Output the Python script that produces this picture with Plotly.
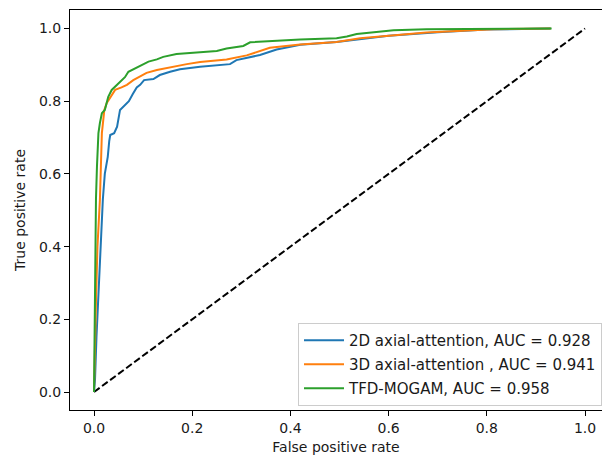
import plotly.graph_objects as go

# ---- data ----
names = ["2D axial-attention, AUC = 0.928",
         "3D axial-attention , AUC = 0.941",
         "TFD-MOGAM, AUC = 0.958"]
colors = ["#1f77b4", "#ff7f0e", "#2ca02c"]

fpr_2d = [0, 0.002, 0.005, 0.009, 0.014, 0.018, 0.022, 0.028, 0.031, 0.033, 0.041, 0.047,
          0.053, 0.063, 0.071, 0.079, 0.087, 0.094, 0.102, 0.121, 0.134, 0.155, 0.175,
          0.216, 0.277, 0.29, 0.338, 0.372, 0.42, 0.494, 0.562, 0.6, 0.65, 0.7, 0.8, 0.93]
tpr_2d = [0, 0.033, 0.15, 0.28, 0.42, 0.53, 0.60, 0.647, 0.69, 0.707, 0.712, 0.73,
          0.776, 0.79, 0.80, 0.82, 0.838, 0.845, 0.858, 0.861, 0.872, 0.881, 0.888,
          0.895, 0.902, 0.913, 0.927, 0.942, 0.955, 0.963, 0.973, 0.98, 0.985, 0.99, 0.997, 1.0]

fpr_3d = [0, 0.001, 0.002, 0.004, 0.007, 0.012, 0.014, 0.015, 0.016, 0.019, 0.021, 0.026,
          0.036, 0.043, 0.056, 0.067, 0.08, 0.094, 0.107, 0.128, 0.155, 0.189, 0.216,
          0.27, 0.311, 0.338, 0.358, 0.42, 0.494, 0.542, 0.61, 0.677, 0.75, 0.813, 0.93]
tpr_3d = [0, 0.10, 0.143, 0.25, 0.40, 0.528, 0.62, 0.69, 0.712, 0.75, 0.776, 0.795,
          0.817, 0.831, 0.838, 0.845, 0.858, 0.869, 0.878, 0.886, 0.894, 0.902, 0.908,
          0.915, 0.926, 0.937, 0.947, 0.956, 0.963, 0.973, 0.982, 0.989, 0.994, 0.998, 1.0]

fpr_tfd = [0, 0.001, 0.002, 0.003, 0.004, 0.006, 0.009, 0.009, 0.012, 0.016, 0.022, 0.025,
           0.029, 0.036, 0.046, 0.056, 0.063, 0.07, 0.084, 0.097, 0.111, 0.128, 0.141,
           0.168, 0.223, 0.25, 0.27, 0.304, 0.318, 0.365, 0.42, 0.494, 0.515, 0.535,
           0.562, 0.61, 0.677, 0.813, 0.932]
tpr_tfd = [0, 0.15, 0.33, 0.45, 0.53, 0.62, 0.693, 0.712, 0.74, 0.767, 0.776, 0.795,
           0.812, 0.831, 0.845, 0.858, 0.866, 0.881, 0.89, 0.90, 0.909, 0.915, 0.922,
           0.93, 0.934, 0.938, 0.945, 0.952, 0.962, 0.966, 0.97, 0.973, 0.978, 0.985,
           0.988, 0.995, 0.998, 1.0, 1.0]

chance_x = [0, 1]
chance_y = [0, 1]

tick_vals = [0.0, 0.2, 0.4, 0.6, 0.8, 1.0]
tick_text = ["0.0", "0.2", "0.4", "0.6", "0.8", "1.0"]

series = [(fpr_2d, tpr_2d), (fpr_3d, tpr_3d), (fpr_tfd, tpr_tfd)]

fig = go.Figure()
fig.add_trace(go.Scatter(x=chance_x, y=chance_y, mode="lines", showlegend=False,
                         line=dict(color="black", width=2, dash="7px,3px")))
for i, ((fx, ty), name, col) in enumerate(zip(series, names, colors)):
    fig.add_trace(go.Scatter(x=fx, y=ty, mode="lines", name=name, legendgroup=f"g{i}",
                             line=dict(color=col, width=2)))

font_family = "DejaVu Sans"
text_color = "#1a1a1a"
axis_common = dict(showgrid=False, zeroline=False, showline=True, linecolor="black",
                   linewidth=1, ticks="outside", ticklen=5, tickwidth=1, tickcolor="black",
                   tickfont=dict(family=font_family, size=14, color=text_color),
                   tickvals=tick_vals, ticktext=tick_text, automargin=False)

fig.update_layout(
    width=602, height=456,
    margin=dict(l=70, r=0, t=10, b=46),
    paper_bgcolor="white", plot_bgcolor="white",
    font=dict(family=font_family, size=14, color=text_color),
    xaxis=dict(range=[-0.0489, 1.0346], mirror=True,
               title=dict(text="False positive rate", standoff=7,
                          font=dict(family=font_family, size=14)),
               **axis_common),
    yaxis=dict(range=[-0.0495, 1.0509], mirror=False,
               title=dict(text="True positive rate", standoff=10,
                          font=dict(family=font_family, size=14)),
               **axis_common),
    legend=dict(x=1, xanchor="right", y=0.01, yanchor="bottom",
                bgcolor="rgba(255,255,255,0.8)", bordercolor="#cccccc", borderwidth=1,
                font=dict(family=font_family, size=15, color=text_color),
                itemwidth=40, traceorder="grouped", tracegroupgap=1.5),
)

fig.write_html("out.html",
               config={"displayModeBar": False},
               post_script="document.body.style.margin='0';document.body.style.overflow='hidden';")
